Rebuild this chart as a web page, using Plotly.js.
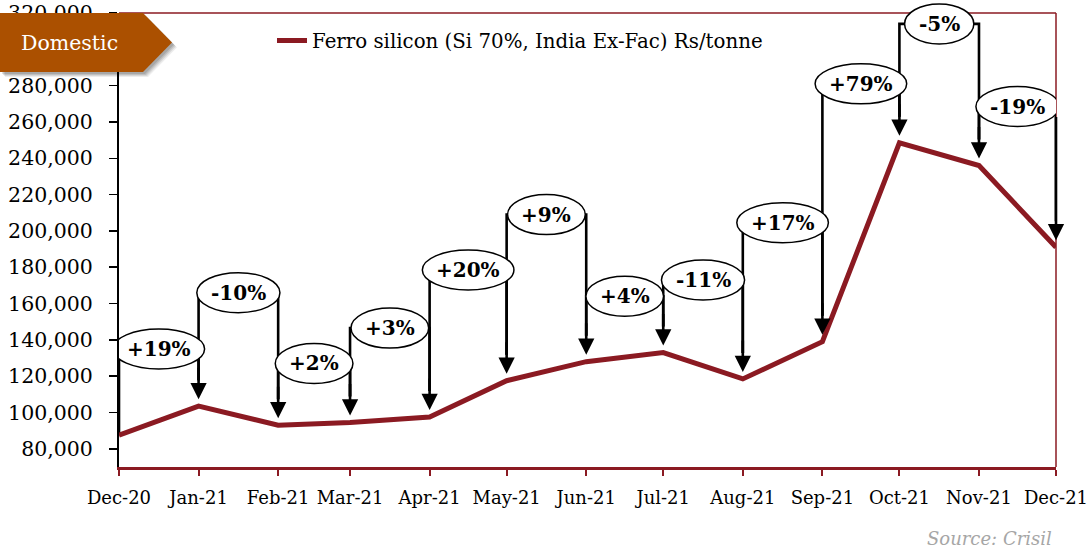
<!DOCTYPE html>
<html>
<head>
<meta charset="utf-8">
<script src="https://cdn.plot.ly/plotly-3.0.1.min.js"></script>
<style>
html,body{margin:0;padding:0;background:#fff;}
#chart{width:1089px;height:548px;}
</style>
</head>
<body>
<div id="chart"></div>
<script>
// ---- data ----
const months = ['2020-12-01','2021-01-01','2021-02-01','2021-03-01','2021-04-01','2021-05-01','2021-06-01','2021-07-01','2021-08-01','2021-09-01','2021-10-01','2021-11-01','2021-12-01'];
const monthLabels = ['Dec-20','Jan-21','Feb-21','Mar-21','Apr-21','May-21','Jun-21','Jul-21','Aug-21','Sep-21','Oct-21','Nov-21','Dec-21'];
const prices = [87500,103500,93000,94500,97500,117500,128000,133000,118500,139000,248500,236000,191000];
const changeLabels = ['+19%','-10%','+2%','+3%','+20%','+9%','+4%','-11%','+17%','+79%','-5%','-19%'];
const yTickVals = [80000,100000,120000,140000,160000,180000,200000,220000,240000,260000,280000,300000,320000];
const yTickText = ['80,000','100,000','120,000','140,000','160,000','180,000','200,000','220,000','240,000','260,000','280,000','','320,000'];
const seriesName = 'Ferro silicon (Si 70%, India Ex-Fac) Rs/tonne';

// ---- layout placement (not data) ----
const labelLevels = [135000,166000,127000,146500,178500,209000,164000,173000,204500,281000,314000,268500];
const yRange = [70000, 320000];
const W = 1089, H = 548;
const M = {l:119, r:33, t:13, b:81};
const plotH = H - M.t - M.b;
const unitsPerPx = (yRange[1]-yRange[0]) / plotH;
const RED = '#8B1A22';
const FONT = 'DejaVu Serif';
const LW = 2.6;

function midDate(a, b){
  const ms = (Date.parse(a) + Date.parse(b)) / 2;
  return new Date(ms).toISOString().replace('T',' ').replace('Z','');
}
const ctx = document.createElement('canvas').getContext('2d');
ctx.font = 'bold 20px "DejaVu Serif"';

// bracket connector lines
const bx = [], by = [];
const gapPx = 26;
for (let k = 0; k < changeLabels.length; k++) {
  const a = k, b = k + 1;
  const ya = k === 0 ? prices[0] : prices[a] + gapPx*unitsPerPx;
  bx.push(months[a], months[a], months[b], months[b], null);
  by.push(ya, labelLevels[k], labelLevels[k], prices[b] + gapPx*unitsPerPx, null);
}

const traces = [
  {x: bx, y: by, mode:'lines', line:{color:'#000', width:LW}, showlegend:false, hoverinfo:'skip'},
  {x: months, y: prices, mode:'lines', name: seriesName, line:{color:RED, width:5}, hoverinfo:'x+y'}
];

const shapes = [
  {type:'line', xref:'paper', yref:'paper', x0:0, x1:1, y0:1, y1:1, line:{color:RED, width:1.5}, layer:'below'},
  {type:'line', xref:'paper', yref:'paper', x0:1, x1:1, y0:0, y1:1, line:{color:RED, width:1.5}, layer:'below'}
];
const annotations = [];

// arrows
const last = months.length - 1;
for (let i = 1; i < months.length; i++) {
  const a = {x: months[i], y: prices[i], xref:'x', yref:'y', text:'', showarrow:true,
    arrowhead:2, arrowsize:1.25, arrowwidth:LW, arrowcolor:'#000', ax:0, ay:-40, standoff:7};
  if (i === last) {
    a.axref = 'x'; a.ax = months[i]; a.ayref = 'y'; a.ay = labelLevels[i-1]; a.startstandoff = 9;
  }
  annotations.push(a);
}
// ellipses + labels
for (let k = 0; k < changeLabels.length; k++) {
  const mx = midDate(months[k], months[k+1]);
  const w = ctx.measureText(changeLabels[k]).width + 28;
  shapes.push({type:'circle', xref:'x', yref:'paper', xsizemode:'pixel', ysizemode:'pixel',
    xanchor: mx, yanchor: (labelLevels[k]-yRange[0])/(yRange[1]-yRange[0]),
    x0:-w/2, x1:w/2, y0:-20, y1:20, fillcolor:'#fff', line:{color:'#000', width:1.5}, layer:'above'});
  annotations.push({x: mx, y: labelLevels[k], xref:'x', yref:'y', text:'<b>'+changeLabels[k]+'</b>',
    showarrow:false, font:{family:FONT, size:20, color:'#000'}});
}
// badge (soft shadow + body)
const badgePath = (dx, dy) => `M${-119+dx},${0+dy} L${24+dx},${0+dy} L${53+dx},${-29.5+dy} L${24+dx},${-59+dy} L${-119+dx},${-59+dy} Z`;
[[5,-5,0.07],[4,-4,0.09],[3,-3,0.11],[2,-2,0.12]].forEach(([dx,dy,o]) => {
  shapes.push({type:'path', xref:'paper', yref:'paper', xsizemode:'pixel', ysizemode:'pixel', xanchor:0, yanchor:1,
    path: badgePath(dx,dy), fillcolor:`rgba(0,0,0,${o})`, line:{width:0}, layer:'above'});
});
shapes.push({type:'path', xref:'paper', yref:'paper', xsizemode:'pixel', ysizemode:'pixel', xanchor:0, yanchor:1,
  path: badgePath(0,0), fillcolor:'#AB5000', line:{width:0}, layer:'above'});
annotations.push({xref:'paper', yref:'paper', x:0, y:1, xshift:-50, yshift:-29.5, xanchor:'center', yanchor:'middle',
  text:'Domestic', showarrow:false, font:{family:FONT, size:20.5, color:'#fff'}});
annotations.push({xref:'paper', yref:'paper', x:1, y:0, xshift:-2, yshift:-71, xanchor:'right', yanchor:'middle',
  text:'<i>Source: Crisil</i>', showarrow:false, font:{family:FONT, size:18, color:'#A6A6A6'}});

const layout = {
  width:W, height:H, margin:M, paper_bgcolor:'#fff', plot_bgcolor:'#fff',
  font:{family:FONT, color:'#000'},
  showlegend:true,
  legend:{orientation:'h', x:(272-M.l)/(W-M.l-M.r), xanchor:'left', y:0.982, yanchor:'top',
    bgcolor:'rgba(0,0,0,0)', font:{family:FONT, size:19.8, color:'#000'}},
  xaxis:{type:'date', range:[months[0], months[last]], tickmode:'array', tickvals:months, ticktext:monthLabels,
    ticks:'outside', ticklen:6, tickwidth:2, tickcolor:RED, showline:true, linecolor:RED, linewidth:2.5,
    showgrid:false, zeroline:false, tickfont:{family:FONT, size:18, color:'#000'}, ticklabelstandoff:7},
  yaxis:{range:yRange, tickmode:'array', tickvals:yTickVals, ticktext:yTickText, ticks:'outside', ticklen:8, tickwidth:1.5, tickcolor:'#000',
    showline:true, linecolor:'#000', linewidth:2, showgrid:false, zeroline:false,
    tickfont:{family:FONT, size:20.5, color:'#000'}, ticklabelstandoff:12},
  shapes: shapes,
  annotations: annotations
};
Plotly.newPlot('chart', traces, layout, {displayModeBar:false, staticPlot:true});
</script>
</body>
</html>
